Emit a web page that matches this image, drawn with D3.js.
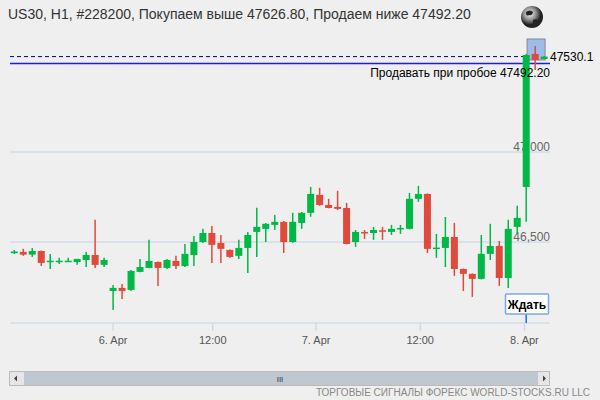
<!DOCTYPE html>
<html><head><meta charset="utf-8">
<script src="https://cdn.jsdelivr.net/npm/d3@7"></script>
<style>body{margin:0;background:#efefef;}svg{display:block;font-family:"Liberation Sans",Arial,sans-serif;}</style>
</head><body><svg></svg>
<script>
// hourly candles
const opens  = [46438,46445,46430,46450,46393,46394,46394,46389,46400,46428,46373,46228,46245,46234,46334,46356,46389,46356,46395,46367,46428,46500,46550,46495,46456,46423,46467,46556,46573,46595,46612,46500,46606,46662,46762,46706,46695,46689,46500,46556,46550,46565,46556,46573,46573,46740,46767,46465,46467,46528,46350,46323,46295,46434,46478,46300,46584,46806,47545,47517];
const closes = [46447,46430,46450,46384,46396,46396,46396,46406,46428,46373,46400,46245,46228,46339,46361,46395,46356,46400,46367,46434,46500,46550,46484,46462,46417,46467,46539,46584,46601,46612,46500,46612,46662,46767,46706,46689,46684,46489,46556,46550,46567,46561,46573,46578,46740,46767,46462,46469,46528,46350,46323,46295,46434,46478,46300,46573,46634,47539,47511,47530];
const highs  = [46456,46462,46467,46453,46434,46412,46412,46406,46445,46623,46412,46261,46267,46345,46406,46512,46391,46406,46423,46489,46534,46573,46589,46539,46459,46512,46556,46690,46606,46651,46617,46662,46667,46806,46801,46740,46784,46717,46567,46567,46584,46584,46595,46595,46773,46812,46770,46545,46639,46606,46353,46326,46539,46601,46506,46623,46701,47545,47589,47532];
const lows   = [46434,46423,46417,46367,46350,46378,46389,46373,46361,46356,46361,46122,46184,46228,46332,46354,46256,46350,46350,46361,46367,46495,46384,46384,46412,46406,46328,46417,46500,46567,46439,46495,46573,46640,46701,46687,46678,46487,46473,46517,46512,46512,46539,46545,46570,46723,46439,46412,46361,46312,46228,46195,46292,46400,46256,46245,46545,46612,47456,47515];
const yTicks = [46500, 47000];
const xTickPos = [11, 22.1, 33.6, 45.2, 56.8];
const xTickLabels = ['6. Apr', '12:00', '7. Apr', '12:00', '8. Apr'];
const currentPrice = 47530.1;
const sellLevel = 47492.20;
const title = 'US30, H1, #228200, Покупаем выше 47626.80, Продаем ниже 47492.20';

const svg = d3.select('svg').attr('width', 600).attr('height', 400);
const x = d3.scaleLinear().domain([0, 57]).range([14.3, 526.2]);
const y = d3.scaleLinear().domain([46500, 47000]).range([242, 152]);
const L = 10, R = 550, bottom = 323;

svg.append('rect').attr('width', 600).attr('height', 400).attr('fill', '#efefef');

svg.append('text').attr('x', 8).attr('y', 19).attr('font-size', 14).attr('fill', '#333').text(title);

// globe
const g = svg.append('defs').append('radialGradient').attr('id', 'gl').attr('cx', '40%').attr('cy', '35%');
g.append('stop').attr('offset', '0').attr('stop-color', '#fafafa');
g.append('stop').attr('offset', '0.6').attr('stop-color', '#888');
g.append('stop').attr('offset', '1').attr('stop-color', '#222');
svg.append('circle').attr('cx', 532).attr('cy', 17).attr('r', 11).attr('fill', 'url(#gl)');
svg.append('path').attr('d', 'M526,12 q4,-3 7,0 q-1,4 -4,3 q-3,2 -3,-3z M533,20 q4,-2 6,1 q-2,4 -6,4z').attr('fill', '#222');

// grid
yTicks.forEach(t => {
  svg.append('line').attr('x1', L).attr('x2', R).attr('y1', y(t)).attr('y2', y(t)).attr('stroke', '#c4d3e6');
  svg.append('text').attr('x', R).attr('y', y(t) - 1).attr('text-anchor', 'end').attr('font-size', 12)
    .attr('fill', '#666').text(d3.format(',')(t));
});

// x axis
svg.append('line').attr('x1', L).attr('x2', R).attr('y1', bottom).attr('y2', bottom).attr('stroke', '#c4d3e6');
xTickPos.forEach((p, i) => {
  svg.append('line').attr('x1', x(p)).attr('x2', x(p)).attr('y1', bottom).attr('y2', bottom + 8).attr('stroke', '#c4d3e6');
  svg.append('text').attr('x', x(p)).attr('y', 344).attr('text-anchor', 'middle').attr('font-size', 11)
    .attr('fill', '#555').text(xTickLabels[i]);
});

// levels
svg.append('line').attr('x1', L).attr('x2', x(57)).attr('y1', y(currentPrice)).attr('y2', y(currentPrice))
  .attr('stroke', '#000080').attr('stroke-dasharray', '4,3');
svg.append('line').attr('x1', L).attr('x2', R).attr('y1', y(sellLevel)).attr('y2', y(sellLevel))
  .attr('stroke', '#1a1aff').attr('stroke-width', 1.5);

// highlight
svg.append('rect').attr('x', x(57.1)).attr('y', 39).attr('width', 18).attr('height', 21)
  .attr('fill', '#9dbcee').attr('stroke', '#888');

// candles
const data = opens.map((o, i) => ({i, o, c: closes[i], h: highs[i], l: lows[i]}));
const col = d => d.c >= d.o ? '#00b845' : '#e04a3c';
svg.selectAll('.wick').data(data).enter().append('line')
  .attr('x1', d => x(d.i)).attr('x2', d => x(d.i)).attr('y1', d => y(d.h)).attr('y2', d => y(d.l))
  .attr('stroke', col).attr('stroke-width', 1.5);
svg.selectAll('.body').data(data).enter().append('rect')
  .attr('x', d => x(d.i) - 3.5).attr('width', 7)
  .attr('y', d => y(Math.max(d.o, d.c))).attr('height', d => Math.max(1.5, Math.abs(y(d.o) - y(d.c))))
  .attr('fill', col);

svg.append('text').attr('x', 550).attr('y', y(currentPrice) + 4).attr('font-size', 12).attr('fill', '#000').text(currentPrice);
svg.append('text').attr('x', R).attr('y', 77).attr('text-anchor', 'end').attr('font-size', 12).attr('fill', '#000')
  .text('Продавать при пробое ' + sellLevel.toFixed(2));

// wait label
svg.append('line').attr('x1', x(57)).attr('x2', x(57)).attr('y1', 313).attr('y2', bottom).attr('stroke', '#1a6aff').attr('stroke-width', 1.5);
svg.append('rect').attr('x', 505.5).attr('y', 294).attr('width', 43).attr('height', 20).attr('rx', 1)
  .attr('fill', '#fff').attr('stroke', '#7aa7f5').attr('stroke-width', 1.5);
svg.append('text').attr('x', 527).attr('y', 309).attr('text-anchor', 'middle').attr('font-size', 12)
  .attr('font-weight', 'bold').text('Ждать');

// scrollbar
svg.append('rect').attr('x', 9.5).attr('y', 371.5).attr('width', 540).attr('height', 14).attr('fill', '#e6e6e6').attr('stroke', '#bbb');
svg.append('rect').attr('x', 24).attr('y', 372).attr('width', 514).attr('height', 13).attr('fill', '#bfc8d1');
svg.append('text').attr('x', 280).attr('y', 382).attr('text-anchor', 'middle').attr('font-size', 8).attr('fill', '#333').text('III');
svg.append('path').attr('d', 'M17,375.5 l-3,3 l3,3 z').attr('fill', '#444');
svg.append('path').attr('d', 'M543,375.5 l3,3 l-3,3 z').attr('fill', '#444');
svg.append('text').attr('x', 590).attr('y', 396).attr('text-anchor', 'end').attr('font-size', 10)
  .attr('fill', '#888').text('ТОРГОВЫЕ СИГНАЛЫ ФОРЕКС WORLD-STOCKS.RU LLC');
</script></body></html>
